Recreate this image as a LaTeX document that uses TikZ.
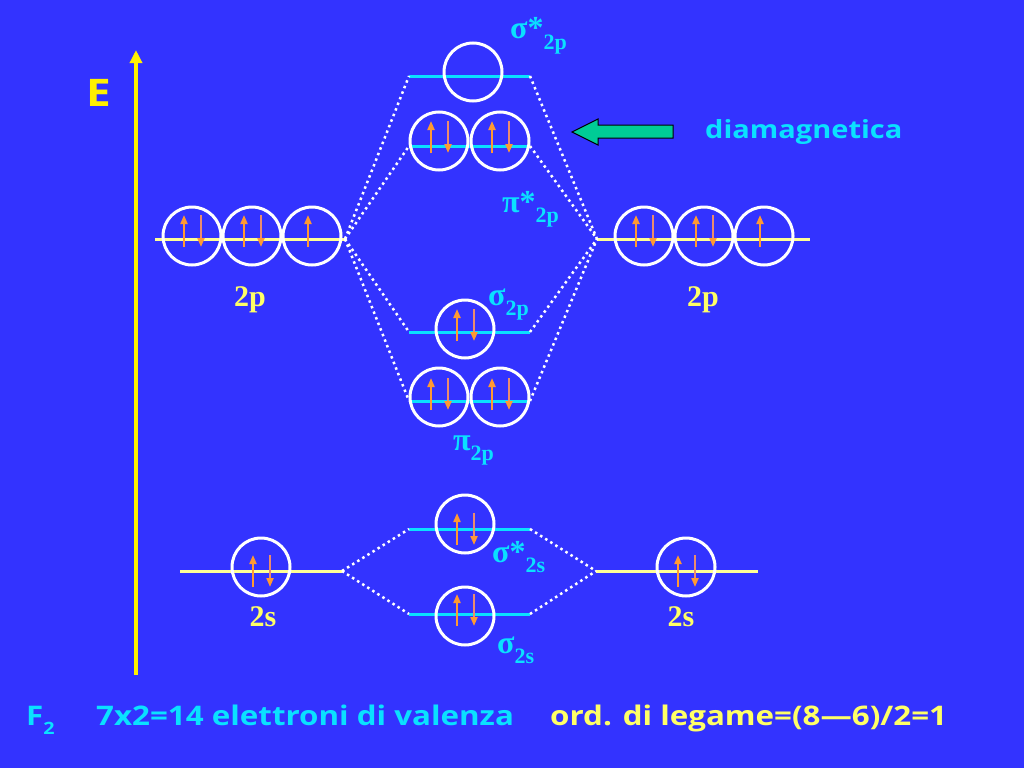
\documentclass[tikz,border=0pt]{standalone}
\usepackage{fontspec}
\setmainfont{Liberation Serif}
\newfontfamily\hand[FakeStretch=1.16]{Open Sans}
\usetikzlibrary{arrows.meta}
\definecolor{bg}{RGB}{51,51,255}
\definecolor{lvc}{RGB}{10,225,255}
\definecolor{lvy}{RGB}{255,255,150}
\definecolor{axis}{RGB}{255,240,0}
\definecolor{lab}{RGB}{255,255,102}
\definecolor{spin}{RGB}{255,153,51}
\definecolor{spindn}{RGB}{235,140,110}
\definecolor{grn}{RGB}{0,204,150}
\newcommand\sub[1]{\raisebox{-10pt}{\fontsize{22}{22}\selectfont #1}}

\begin{document}
\begin{tikzpicture}[x=1pt,y=-1pt,
   orb/.style={circle,draw=white,line width=3pt,minimum size=58pt,inner sep=0pt},
   levy/.style={draw=lvy,line width=3pt},
   levc/.style={draw=lvc,line width=3pt},
   corr/.style={draw=white,line width=2.5pt,dash pattern=on 2.5pt off 3.5pt},
   spinup/.style={draw=spin,line width=2pt,-{Triangle[width=7pt,length=9pt]}},
   spindown/.style={draw=spindn,line width=2pt,-{Triangle[width=7pt,length=9pt,color=spin]}},
   mo/.style={text=lvc,font=\bfseries\fontsize{32}{32}\selectfont,anchor=base west,inner sep=0pt},
   ao/.style={text=lab,font=\bfseries\fontsize{30}{30}\selectfont,inner sep=0pt},
   hand/.style={font=\hand\bfseries\fontsize{27}{27}\selectfont,anchor=base west,inner sep=0pt}]
   \useasboundingbox (0,0) rectangle (1024,768);
   \fill[bg] (0,0) rectangle (1024,768);
   % energy axis
   \draw[axis,line width=4pt,-{Triangle[width=12pt,length=13pt]}] (136,675) -- (136,50);
   \node[text=axis,font=\hand\bfseries\fontsize{38}{38}\selectfont,inner sep=0pt] (E) at (99,93) {E};
   % atomic levels
   \coordinate (L2p) at (345,239); \coordinate (R2p) at (597,239);
   \coordinate (L2s) at (342,571); \coordinate (R2s) at (596,571);
   \coordinate (L2p-e) at (155,239); \coordinate (R2p-e) at (810,239);
   \coordinate (L2s-e) at (180,571); \coordinate (R2s-e) at (758,571);
   \draw[levy] (L2p-e) -- (L2p);
   \draw[levy] (R2p) -- (R2p-e);
   \draw[levy] (L2s-e) -- (L2s);
   \draw[levy] (R2s) -- (R2s-e);
   % molecular levels
   \foreach \m/\y in {ss2p/76,ps2p/146,s2p/332,p2p/401,ss2s/529,s2s/614} {
    \coordinate (\m-l) at (409,\y);
    \coordinate (\m-r) at (530,\y);
    \draw[levc] (\m-l) -- (\m-r);
   }
   \foreach \m in {ss2p,ps2p,s2p,p2p} {
    \draw[corr] (L2p) -- (\m-l);
    \draw[corr] (\m-r) -- (R2p);
   }
   \foreach \m in {ss2s,s2s} {
    \draw[corr] (L2s) -- (\m-l);
    \draw[corr] (\m-r) -- (R2s);
   }
   % orbitals and electrons
   \foreach \o/\x/\y/\c/\e in {a1/192/236/231/2,a2/252/236/231/2,a3/312/236/231/1,
     b1/644/236/231/2,b2/704/236/231/2,b3/764/236/231/1,
     ss2p/473/72/72/0,ps2pa/439/141/137/2,ps2pb/500/141/137/2,
     s2p/465/329/325/2,p2pa/439/397/394/2,p2pb/500/397/394/2,
     ss2s/465/524/529/2,s2s/465/616/610/2,a4/261/567/571/2,b4/686/567/571/2} {
    \node[orb] (o-\o) at (\x,\y) {};
    \ifnum\e=2
     \draw[spinup] (\x-8,\c+16) -- (\x-8,\c-16);
     \draw[spindown] (\x+9,\c-16) -- (\x+9,\c+16);
    \fi
    \ifnum\e=1
     \draw[spinup] (\x-4,\c+16) -- (\x-4,\c-16);
    \fi
   }
   % labels
   \node[mo] (t-ss2p) at (510,39) {σ*\sub{2p}};
   \node[mo] (t-ps2p) at (502,212) {π*\sub{2p}};
   \node[mo] (t-s2p) at (488,305) {σ\sub{2p}};
   \node[mo] (t-p2p) at (453,450) {π\sub{2p}};
   \node[mo] (t-ss2s) at (492,562) {σ*\sub{2s}};
   \node[mo] (t-s2s) at (497,653) {σ\sub{2s}};
   \node[ao] (t-a2p) at (250,300) {2p};
   \node[ao] (t-b2p) at (703,300) {2p};
   \node[ao] (t-a2s) at (263,617) {2s};
   \node[ao] (t-b2s) at (681,617) {2s};
   % arrow to the filled pi* level
   \filldraw[fill=grn,draw=black,line width=1pt] (673,125) -- (598,125) -- (598,119)
    -- (572,132) -- (598,145) -- (598,138) -- (673,138) -- cycle;
   \node[hand,text=lvc,anchor=west,font=\hand\bfseries\fontsize{25}{25}\selectfont] (dia) at (705,132) {diamagnetica};
   % bottom line
   \node[hand,text=lvc] (F2) at (26,725) {F\raisebox{-9pt}{\fontsize{17}{17}\selectfont 2}};
   \node[hand,text=lvc] (val) at (96,725) {7x2=14 elettroni di valenza};
   \node[hand,text=lab] (ord) at (550,725) {ord. di legame=(8—6)/2=1};
  \end{tikzpicture}
\end{document}
